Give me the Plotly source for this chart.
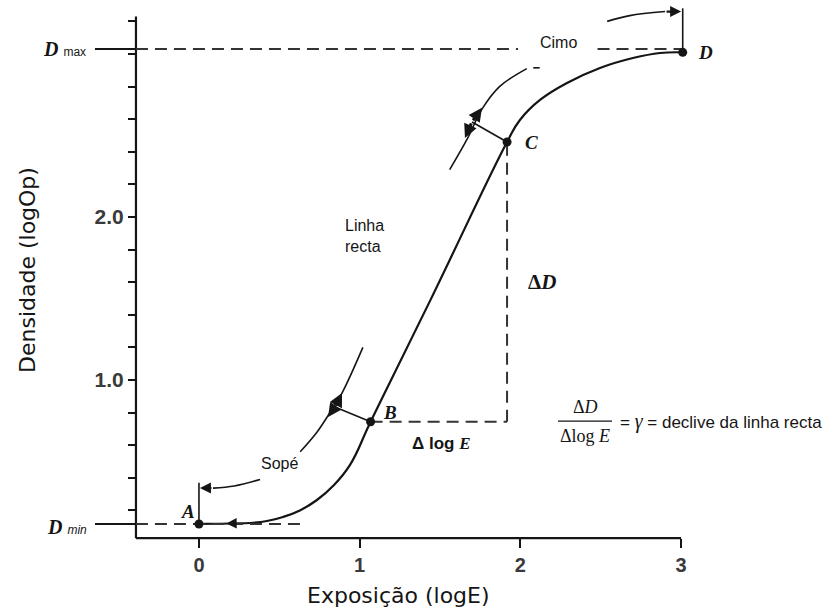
import plotly.graph_objects as go

# ---------------- data ----------------
x_tick_vals = [0, 1, 2, 3]
x_tick_text = ["0", "1", "2", "3"]
y_tick_vals = [0.2, 0.4, 0.6, 0.8, 1.0, 1.2, 1.4, 1.6, 1.8, 2.0, 2.2, 2.4, 2.6, 2.8, 3.0, 3.2]
y_tick_text = ["", "", "", "", "1.0", "", "", "", "", "2.0", "", "", "", "", "", ""]

# characteristic curve (log E, density)
curve_x = [0.0, 0.21, 0.317, 0.423, 0.523, 0.628, 0.734, 0.834, 0.94, 1.068,
           1.44, 1.917, 1.997, 2.122, 2.29, 2.495, 2.70, 2.869, 3.01]
curve_y = [0.117, 0.12, 0.123, 0.135, 0.16, 0.20, 0.264, 0.35, 0.48, 0.744,
           1.49, 2.46, 2.595, 2.718, 2.822, 2.914, 2.975, 3.006, 3.01]

point_names = ["A", "B", "C", "D"]
point_x = [0.0, 1.068, 1.917, 3.01]
point_y = [0.117, 0.744, 2.46, 3.01]

D_min = 0.117
D_max = 3.03

# guide curves (toe / shoulder parallels, annotation arrows)
toe_guide_x = [0.63, 0.734, 0.815, 0.89, 1.02]
toe_guide_y = [0.56, 0.68, 0.80, 0.92, 1.20]
toe_foot = (0.846, 0.834)
toe_tips = [(0.89, 0.92), (0.803, 0.773)]

sh_guide_x = [1.56, 1.67, 1.76, 1.87, 2.04]
sh_guide_y = [2.29, 2.48, 2.66, 2.80, 2.91]
sh_dash_x = [2.08, 2.12]
sh_dash_y = [2.915, 2.915]
sh_foot = (1.699, 2.583)
sh_tips = [(1.761, 2.67), (1.655, 2.485)]

sope_curve_x = [0.38, 0.22, 0.087]
sope_curve_y = [0.39, 0.35, 0.337]
sope_top = 0.37

toe_mark_tip = (0.17, 0.12)
toe_mark_tail = (0.24, 0.121)

top_curve_x = [2.54, 2.68, 2.90]
top_curve_y = [3.20, 3.235, 3.26]
top_line_top = 3.28

cimo_gap = [1.985, 2.48]
dmin_dash_end = 0.67

# ---------------- geometry ----------------
X_RANGE = [-1.238, 3.914]
Y_RANGE = [-0.423, 3.331]
X_AXIS_START = -0.392
X_AXIS_END = 3.0
Y_AXIS_BASE = 0.03
Y_AXIS_TOP = 3.23
LEFT_STUB = -0.647

INK = "#151515"
DASH = "12px,7px"

fig = go.Figure()

def line(xs, ys, width=2, dash=None, shape="linear", color=INK, smoothing=1.0):
    fig.add_trace(go.Scatter(x=xs, y=ys, mode="lines", hoverinfo="skip",
                             line=dict(color=color, width=width, dash=dash, shape=shape,
                                       smoothing=smoothing)))

# axis lines
line([X_AXIS_START, X_AXIS_START], [Y_AXIS_BASE, Y_AXIS_TOP], width=2.2)
line([X_AXIS_START, X_AXIS_END], [Y_AXIS_BASE, Y_AXIS_BASE], width=2.2)

# main curve
line(curve_x, curve_y, width=2.2, shape="spline", smoothing=1.2)

# Dmax / Dmin guides
line([LEFT_STUB, X_AXIS_START], [D_max, D_max], width=2)
line([X_AXIS_START, cimo_gap[0]], [D_max, D_max], width=2, dash=DASH, color="#333")
line([cimo_gap[1], point_x[3]], [D_max, D_max], width=2, dash=DASH, color="#333")
line([LEFT_STUB, X_AXIS_START], [D_min, D_min], width=2)
line([X_AXIS_START, dmin_dash_end], [D_min, D_min], width=2, dash=DASH, color="#333")

# delta triangle
line([point_x[1], point_x[2]], [point_y[1], point_y[1]], width=2, dash=DASH, color="#333")
line([point_x[2], point_x[2]], [point_y[1], point_y[2]], width=2, dash=DASH, color="#333")

# toe / shoulder parallel guides
line(toe_guide_x, toe_guide_y, width=1.6, shape="spline")
line([point_x[1], toe_foot[0]], [point_y[1], toe_foot[1]], width=1.6)
line(sh_guide_x, sh_guide_y, width=1.6, shape="spline")
line(sh_dash_x, sh_dash_y, width=1.6)
line([point_x[2], sh_foot[0]], [point_y[2], sh_foot[1]], width=1.6)

# Sopé and Cimo pointers
line([point_x[0], point_x[0]], [point_y[0], sope_top], width=1.6)
line(sope_curve_x, sope_curve_y, width=1.6, shape="spline")
line([point_x[3], point_x[3]], [point_y[3], top_line_top], width=1.6)
line(top_curve_x, top_curve_y, width=1.6, shape="spline")

# points
fig.add_trace(go.Scatter(x=point_x, y=point_y, mode="markers", hoverinfo="skip",
                         marker=dict(color=INK, size=9)))

ann = []

def arrow(tip, tail, size=1.0, width=2.4):
    ann.append(dict(x=tip[0], y=tip[1], ax=tail[0], ay=tail[1], xref="x", yref="y",
                    axref="x", ayref="y", showarrow=True, arrowhead=2, arrowsize=size,
                    arrowwidth=width, arrowcolor=INK, text="", standoff=0))

for t in toe_tips:
    arrow(t, toe_foot, size=0.9, width=3)
for t in sh_tips:
    arrow(t, sh_foot, size=0.9, width=3)
arrow(toe_mark_tip, toe_mark_tail, size=0.8, width=2.6)
arrow((0.006, sope_curve_y[-1]), (sope_curve_x[-1], sope_curve_y[-1]), size=1.0, width=2.2)
arrow((3.0, top_curve_y[-1]), (top_curve_x[-1], top_curve_y[-1]), size=1.0, width=2.2)

SERIF = "Liberation Serif"
SANS = "Liberation Sans"

def text(x, y, s, size=14, family=SANS, xanchor="center", color=INK, xref="x", yref="y",
         angle=0, align="center"):
    ann.append(dict(x=x, y=y, text=s, showarrow=False, xref=xref, yref=yref,
                    xanchor=xanchor, yanchor="middle", textangle=angle, align=align,
                    font=dict(size=size, family=family, color=color)))

# point labels
label_pos = [(-0.068, 0.196), (1.19, 0.80), (2.066, 2.454), (3.149, 3.012)]
for name, (lx, ly) in zip(point_names, label_pos):
    text(lx, ly, "<b><i>%s</i></b>" % name, size=19, family=SERIF)

text(-0.691, D_max, "<b><i>D</i></b> <span style='font-family:Liberation Sans;font-size:12px'>max</span>",
     size=20, family=SERIF, xanchor="right")
text(-0.684, D_min - 0.02, "<b><i>D</i></b> <span style='font-family:Liberation Sans;font-size:12px'><i>min</i></span>",
     size=20, family=SERIF, xanchor="right")

text(2.234, 3.07, "Cimo", size=16)
text(0.896, 1.885, "Linha<br>recta", size=16, xanchor="left", align="left")
text(0.504, 0.485, "Sopé", size=16)
text(2.134, 1.60, "<b>Δ<i>D</i></b>", size=21, family=SERIF)
text(1.512, 0.613, "<b>Δ log <span style='font-family:Liberation Serif'><i>E</i></span></b>", size=17)

# formula
text(2.402, 0.834, "Δ<i>D</i>", size=18, family=SERIF)
text(2.402, 0.656, "Δlog <i>E</i>", size=18, family=SERIF)
text(2.607, 0.748, "= <span style='font-family:Liberation Serif;font-size:20px'><i>γ</i></span> = declive da linha recta",
     size=17, xanchor="left")

# axis titles
text(27 / 828, 1 - 270 / 612, "Densidade (logOp)", size=22, family="DejaVu Sans",
     xref="paper", yref="paper", angle=-90)
text(398 / 828, 1 - 595 / 612, "Exposição (logE)", size=22, family="DejaVu Sans",
     xref="paper", yref="paper")

fig.update_layout(
    width=828, height=612,
    margin=dict(l=0, r=0, t=0, b=0),
    paper_bgcolor="white", plot_bgcolor="white",
    showlegend=False,
    annotations=ann,
    shapes=[dict(type="line", xref="x", yref="y", x0=2.234, x1=2.570, y0=0.748, y1=0.748,
                 line=dict(color=INK, width=1.2))],
    xaxis=dict(domain=[0, 1], range=X_RANGE, anchor="free",
               position=(Y_AXIS_BASE - Y_RANGE[0]) / (Y_RANGE[1] - Y_RANGE[0]),
               tickvals=x_tick_vals, ticktext=x_tick_text, ticks="outside", ticklen=9,
               tickwidth=2, tickcolor=INK, showline=False, showgrid=False, zeroline=False,
               automargin=False, fixedrange=True,
               tickfont=dict(size=20, family=SANS, color="#3a3a3a", weight="bold")),
    yaxis=dict(domain=[0, 1], range=Y_RANGE, anchor="free",
               position=(X_AXIS_START - X_RANGE[0]) / (X_RANGE[1] - X_RANGE[0]),
               tickvals=y_tick_vals, ticktext=y_tick_text, ticks="outside", ticklen=8,
               tickwidth=2, tickcolor=INK, showline=False, showgrid=False, zeroline=False,
               automargin=False, fixedrange=True,
               tickfont=dict(size=21, family=SANS, color="#3a3a3a", weight="bold")),
)

fig.write_html("out.html", config={"displayModeBar": False},
               post_script="document.body.style.margin='0px';document.body.style.overflow='hidden';")
